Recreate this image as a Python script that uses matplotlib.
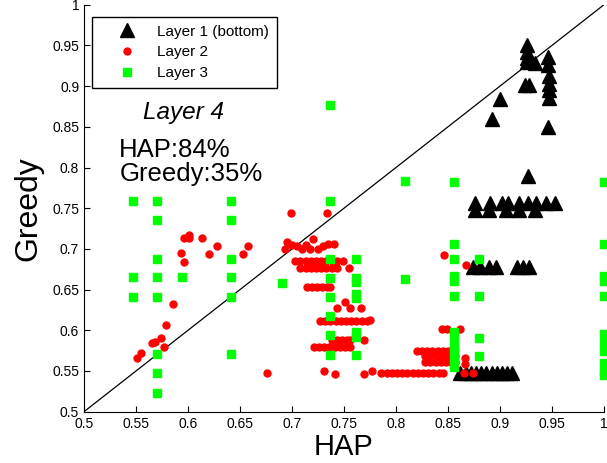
import numpy as np
import matplotlib
matplotlib.use("Agg")
import matplotlib.pyplot as plt
from matplotlib.ticker import FormatStrFormatter

plt.rcParams['font.family'] = ['Liberation Sans', 'DejaVu Sans']

# Layer 1 (bottom) - black triangles
hap1 = [0.926, 0.926, 0.926, 0.926, 0.934, 0.946, 0.946, 0.947, 0.947, 0.947, 0.947,
        0.924, 0.928, 0.900, 0.892, 0.946, 0.927,
        0.876, 0.890, 0.902, 0.908, 0.918, 0.927, 0.935, 0.944, 0.953,
        0.876, 0.889, 0.906, 0.918, 0.934,
        0.874, 0.881, 0.889, 0.896, 0.916, 0.922, 0.928,
        0.862, 0.867, 0.872, 0.877, 0.882, 0.887, 0.892, 0.897, 0.902, 0.907, 0.912]
greedy1 = [0.950, 0.942, 0.935, 0.930, 0.928, 0.936, 0.926, 0.912, 0.903, 0.895, 0.885,
           0.901, 0.901, 0.884, 0.860, 0.850, 0.789,
           0.756, 0.756, 0.756, 0.756, 0.756, 0.756, 0.756, 0.756, 0.756,
           0.748, 0.748, 0.748, 0.748, 0.748,
           0.678, 0.678, 0.678, 0.678, 0.678, 0.678, 0.678,
           0.547, 0.547, 0.547, 0.547, 0.547, 0.547, 0.547, 0.547, 0.547, 0.547, 0.547]

# Layer 2 - red dots
hap2 = [0.586, 0.579, 0.574, 0.565, 0.568, 0.577, 0.555, 0.551, 0.676,
        0.593, 0.596, 0.596, 0.601, 0.601, 0.613, 0.620, 0.628, 0.653, 0.658,
        0.699, 0.734, 0.720,
        0.693, 0.695, 0.700, 0.705, 0.710, 0.713, 0.717, 0.725, 0.730, 0.735, 0.740,
        0.703, 0.708, 0.713, 0.718, 0.723, 0.728, 0.733, 0.738, 0.743, 0.749,
        0.708, 0.713, 0.718, 0.723, 0.728, 0.733, 0.738, 0.743, 0.755,
        0.714, 0.719, 0.724, 0.729, 0.734, 0.737,
        0.743, 0.751, 0.756, 0.766,
        0.727, 0.732, 0.737, 0.742, 0.747, 0.752, 0.757, 0.762, 0.767, 0.772, 0.775,
        0.738, 0.743, 0.748, 0.753, 0.756, 0.769,
        0.721, 0.726, 0.731, 0.736, 0.741, 0.746, 0.751, 0.756,
        0.731, 0.741, 0.769, 0.777,
        0.786, 0.791, 0.796, 0.801, 0.806, 0.811, 0.816, 0.821, 0.826, 0.831, 0.836, 0.841, 0.845,
        0.844, 0.849, 0.862,
        0.820, 0.825, 0.830, 0.835, 0.840, 0.845, 0.850, 0.855,
        0.828, 0.833, 0.838, 0.843, 0.848, 0.853, 0.857,
        0.828, 0.833, 0.838, 0.843, 0.848, 0.853, 0.857,
        0.866, 0.866, 0.865, 0.874,
        0.846, 0.867]
greedy2 = [0.632, 0.606, 0.591, 0.585, 0.586, 0.579, 0.572, 0.566, 0.547,
           0.695, 0.684, 0.713, 0.717, 0.713, 0.713, 0.694, 0.703, 0.694, 0.704,
           0.744, 0.744, 0.712,
           0.700, 0.708, 0.705, 0.703, 0.700, 0.705, 0.700, 0.700, 0.703, 0.706, 0.706,
           0.685, 0.685, 0.685, 0.685, 0.685, 0.685, 0.685, 0.685, 0.685, 0.685,
           0.676, 0.676, 0.676, 0.676, 0.676, 0.676, 0.676, 0.676, 0.676,
           0.653, 0.653, 0.653, 0.653, 0.653, 0.653,
           0.627, 0.635, 0.627, 0.627,
           0.611, 0.611, 0.611, 0.611, 0.611, 0.611, 0.611, 0.611, 0.611, 0.611, 0.613,
           0.588, 0.588, 0.588, 0.588, 0.588, 0.588,
           0.579, 0.579, 0.579, 0.579, 0.579, 0.579, 0.579, 0.579,
           0.550, 0.546, 0.546, 0.550,
           0.547, 0.547, 0.547, 0.547, 0.547, 0.547, 0.547, 0.547, 0.547, 0.547, 0.547, 0.547, 0.547,
           0.602, 0.602, 0.602,
           0.5745, 0.5745, 0.5745, 0.5745, 0.5745, 0.5745, 0.5745, 0.5745,
           0.568, 0.568, 0.568, 0.568, 0.568, 0.568, 0.568,
           0.561, 0.561, 0.561, 0.561, 0.561, 0.561, 0.561,
           0.566, 0.559, 0.547, 0.547,
           0.6925, 0.680]

# Layer 3 - green squares
hap3 = [0.547, 0.547, 0.547,
        0.570, 0.570, 0.570, 0.570, 0.570, 0.570, 0.570, 0.570,
        0.594,
        0.641, 0.641, 0.641, 0.641, 0.641, 0.641,
        0.690,
        0.737, 0.737, 0.737, 0.737, 0.737, 0.737, 0.737, 0.737,
        0.762, 0.762, 0.762, 0.762, 0.762, 0.762, 0.762, 0.762,
        0.809, 0.809,
        0.856, 0.856, 0.856, 0.856, 0.856, 0.856, 0.856, 0.856, 0.856, 0.856, 0.856, 0.856,
        0.880, 0.880, 0.880, 0.880,
        1.0, 1.0, 1.0, 1.0, 1.0, 1.0, 1.0, 1.0, 1.0, 1.0, 1.0]
greedy3 = [0.759, 0.665, 0.641,
           0.759, 0.736, 0.688, 0.665, 0.641, 0.5705, 0.548, 0.523,
           0.665,
           0.759, 0.736, 0.688, 0.665, 0.641, 0.5705,
           0.658,
           0.877, 0.759, 0.688, 0.664, 0.641, 0.617, 0.594, 0.570,
           0.688, 0.664, 0.659, 0.645, 0.640, 0.598, 0.592, 0.570,
           0.783, 0.663,
           0.782, 0.706, 0.688, 0.667, 0.661, 0.642, 0.598, 0.590, 0.580, 0.576, 0.565, 0.555,
           0.688, 0.642, 0.591, 0.568,
           0.782, 0.706, 0.667, 0.661, 0.642, 0.595, 0.585, 0.575, 0.560, 0.550, 0.545]

ticks = [0.5, 0.55, 0.6, 0.65, 0.7, 0.75, 0.8, 0.85, 0.9, 0.95, 1.0]

fig = plt.figure(figsize=(6.07, 4.63), dpi=100)
ax = fig.add_axes([84 / 607, 51.3 / 463, 520 / 607, 407 / 463])

ax.plot([0.5, 1.0], [0.5, 1.0], color='black', linewidth=0.9, zorder=1)
ax.plot(hap1, greedy1, '^', color='black', markersize=10, linestyle='none',
        label='Layer 1 (bottom)', clip_on=False, zorder=2)
ax.plot(hap2, greedy2, 'o', color='#ff0000', markersize=5, linestyle='none',
        label='Layer 2', clip_on=False, zorder=3)
ax.plot(hap3, greedy3, 's', color='#00ff00', markersize=5.8, linestyle='none',
        label='Layer 3', clip_on=False, zorder=4)

ax.set_xlim(0.5, 1.0)
ax.set_ylim(0.5, 1.0)
ax.set_xticks(ticks)
ax.set_yticks(ticks)
ax.xaxis.set_major_formatter(FormatStrFormatter('%g'))
ax.yaxis.set_major_formatter(FormatStrFormatter('%g'))
ax.tick_params(direction='in', length=4, labelsize=10, width=0.8)

ax.spines["right"].set_visible(False)
ax.spines["top"].set_visible(False)

ax.set_xlabel("HAP", fontsize=21, labelpad=2)
ax.set_ylabel("Greedy", fontsize=23, labelpad=6)

ax.text(0.5955, 0.867, "Layer 4", fontsize=17.5, style='italic', ha='center', va='center')
ax.text(0.534, 0.813, "HAP:84%", fontsize=18.5, ha='left', va='baseline')
ax.text(0.534, 0.783, "Greedy:35%", fontsize=18.5, ha='left', va='baseline')

leg = ax.legend(loc='upper left', bbox_to_anchor=(0.015, 0.97), borderaxespad=0,
                fontsize=11, fancybox=False, edgecolor='black', framealpha=1,
                handlelength=3.6, handletextpad=0.2, labelspacing=0.45, borderpad=0.5,
                numpoints=1)
leg.get_frame().set_linewidth(1.0)

fig.savefig("out.png", dpi=100)
